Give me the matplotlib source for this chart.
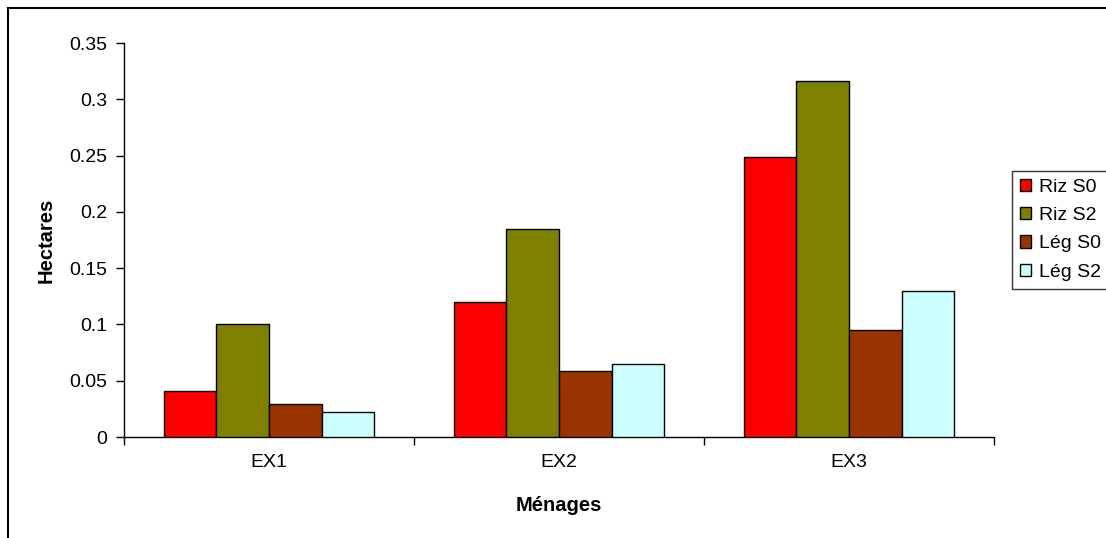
import matplotlib
matplotlib.use("Agg")
import matplotlib.pyplot as plt
import numpy as np
from matplotlib.patches import Rectangle

categories = ["EX1", "EX2", "EX3"]
series_names = ["Riz S0", "Riz S2", "Lég S0", "Lég S2"]
riz_s0 = [0.041, 0.12, 0.249]
riz_s2 = [0.10, 0.185, 0.316]
leg_s0 = [0.029, 0.059, 0.095]
leg_s2 = [0.022, 0.065, 0.130]
colors = ["#FF0000", "#808000", "#993300", "#CCFFFF"]
yticks = [0, 0.05, 0.1, 0.15, 0.2, 0.25, 0.3, 0.35]
ytick_labels = ["0", "0.05", "0.1", "0.15", "0.2", "0.25", "0.3", "0.35"]

plt.rcParams['font.family'] = ['Liberation Sans', 'DejaVu Sans']

fig = plt.figure(figsize=(11.06, 5.38), dpi=100)
ax = fig.add_axes([124/1106, 1 - 437/538, (994 - 124)/1106, (437 - 43)/538])

data = [riz_s0, riz_s2, leg_s0, leg_s2]
n = len(data)
bw = 1 / (n + 1.5)
x = np.arange(len(categories))
for i, (vals, name, c) in enumerate(zip(data, series_names, colors)):
    offs = (i - (n - 1) / 2) * bw
    ax.bar(x + offs, vals, width=bw, color=c, edgecolor="black", linewidth=1.0,
           label=name, zorder=3)

ax.set_xlim(-0.5, len(categories) - 0.5)
ax.set_ylim(0, 0.35)
ax.set_yticks(yticks)
ax.set_yticklabels(ytick_labels)
ax.set_xticks(x)
ax.set_xticklabels(categories)
ax.set_xticks(np.arange(len(categories) + 1) - 0.5, minor=True)
ax.tick_params(axis="x", which="major", length=0, pad=12, labelsize=14)
ax.tick_params(axis="x", which="minor", length=5.5, direction="out", width=1)
ax.tick_params(axis="y", length=5.5, direction="out", width=1, labelsize=14, pad=6.5)

for s in ["top", "right"]:
    ax.spines[s].set_visible(False)
ax.spines["left"].set_linewidth(1)
ax.spines["bottom"].set_linewidth(1)

ax.set_xlabel("Ménages", fontsize=14.5, fontweight="bold", labelpad=18)
ax.set_ylabel("Hectares", fontsize=14.5, fontweight="bold", labelpad=10)

leg = fig.legend(loc="upper left", bbox_to_anchor=(1012/1106, 1 - 171/538),
                 frameon=True, fancybox=False, edgecolor="black", fontsize=14,
                 handlelength=0.6, handleheight=0.6, handletextpad=0.4,
                 labelspacing=0.58, borderpad=0.4, borderaxespad=0)
leg.get_frame().set_linewidth(1)
for h in leg.legend_handles:
    h.set_linewidth(1)

fig.patches.append(Rectangle((8/1106, -0.1), 1.5, 1 - 8/538 + 0.1,
                             transform=fig.transFigure, fill=False,
                             edgecolor="black", linewidth=1.5, clip_on=False))

fig.savefig("out.png", dpi=100)
